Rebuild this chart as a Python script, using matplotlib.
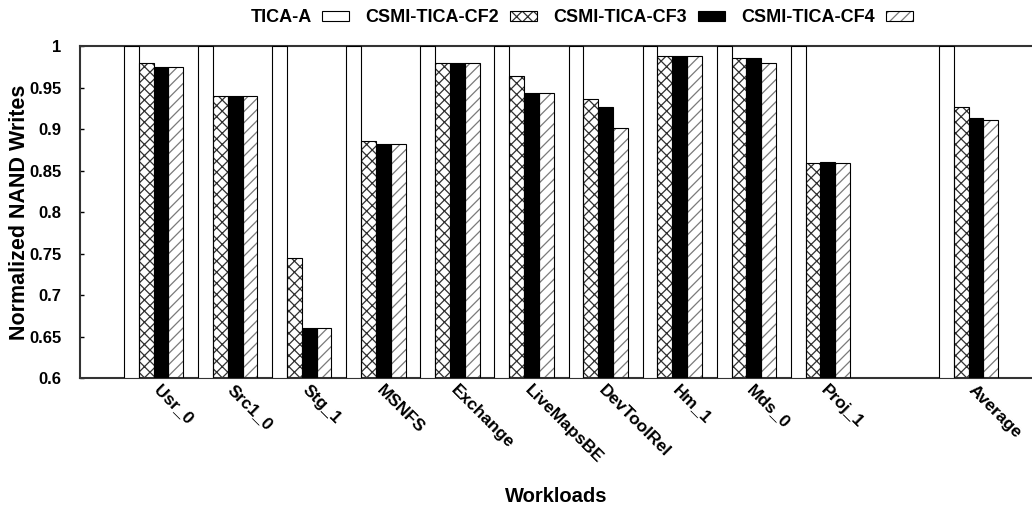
import matplotlib
matplotlib.use("Agg")
import matplotlib.pyplot as plt
import numpy as np
from matplotlib.patches import Patch
from matplotlib.ticker import FuncFormatter
from matplotlib.transforms import ScaledTranslation
from matplotlib.legend_handler import HandlerTuple

plt.rcParams['font.family'] = ['Liberation Sans', 'DejaVu Sans']
plt.rcParams['font.weight'] = 'bold'
plt.rcParams['hatch.linewidth'] = 0.9

categories = ["Usr_0", "Src1_0", "Stg_1", "MSNFS", "Exchange", "LiveMapsBE",
              "DevToolRel", "Hm_1", "Mds_0", "Proj_1", "", "Average"]
series_names = ["TICA-A", "CSMI-TICA-CF2", "CSMI-TICA-CF3", "CSMI-TICA-CF4"]
tica_a = [1, 1, 1, 1, 1, 1, 1, 1, 1, 1, np.nan, 1]
cf2 = [0.979, 0.940, 0.745, 0.8855, 0.980, 0.9635, 0.936, 0.988, 0.986, 0.859, np.nan, 0.926]
cf3 = [0.975, 0.940, 0.660, 0.882, 0.980, 0.943, 0.926, 0.988, 0.986, 0.860, np.nan, 0.9137]
cf4 = [0.975, 0.940, 0.660, 0.882, 0.980, 0.943, 0.901, 0.988, 0.979, 0.8587, np.nan, 0.911]
yticks = [0.6, 0.65, 0.7, 0.75, 0.8, 0.85, 0.9, 0.95, 1.0]

fig = plt.figure(figsize=(10.32, 5.07), dpi=100)
ax = fig.add_axes([0.0771, 0.2544, 0.9333, 0.6548])

x = np.arange(len(categories))
w = 0.2
offsets = [-1.5 * w, -0.5 * w, 0.5 * w, 1.5 * w]
styles = [
    dict(color='white', hatch=None, hatchcol=None),
    dict(color='white', hatch='xxx', hatchcol='#303030'),
    dict(color='black', hatch=None, hatchcol=None),
    dict(color='white', hatch='///', hatchcol='#7a7a7a'),
]
data = [tica_a, cf2, cf3, cf4]
handles = []
for vals, off, st, name in zip(data, offsets, styles, series_names):
    v = np.array(vals, dtype=float)
    if st['hatch']:
        ax.bar(x + off, v - 0.6, w, bottom=0.6, color=st['color'], hatch=st['hatch'],
               edgecolor=st['hatchcol'], linewidth=0, zorder=2)
        ax.bar(x + off, v - 0.6, w, bottom=0.6, fill=False, edgecolor='black',
               linewidth=0.8, zorder=3)
        h = (Patch(facecolor=st['color'], hatch=st['hatch'], edgecolor=st['hatchcol'], linewidth=0),
             Patch(fill=False, edgecolor='black', linewidth=0.8))
    else:
        ax.bar(x + off, v - 0.6, w, bottom=0.6, color=st['color'], edgecolor='black',
               linewidth=0.8, zorder=3)
        h = Patch(facecolor=st['color'], edgecolor='black', linewidth=0.8)
    handles.append(h)

ax.set_xlim(-1, 12)
ax.set_ylim(0.6, 1.0)
ax.set_yticks(yticks)
ax.yaxis.set_major_formatter(FuncFormatter(lambda v, p: f"{v:g}"))
ax.tick_params(axis='y', direction='in', length=3, width=1, labelsize=12, pad=13)
ax.set_xticks(x)
ax.set_xticklabels(categories, rotation=-45, ha='left', va='top', rotation_mode='anchor')
ax.tick_params(axis='x', length=0, labelsize=12.5, pad=3)
offset = ScaledTranslation(8 / 100, 0, fig.dpi_scale_trans)
for lab in ax.get_xticklabels():
    lab.set_transform(lab.get_transform() + offset)
for s in ax.spines.values():
    s.set_linewidth(1.5)
    s.set_color('#333333')

ax.set_ylabel("Normalized NAND Writes", fontsize=15.5, fontweight='bold')
ax.yaxis.set_label_coords(-0.0515, 0.5)
fig.text(0.539, 1 - 496 / 507, "Workloads", fontsize=14.5, fontweight='bold', ha='center', va='center')

fig.legend(handles, series_names, loc='center', bbox_to_anchor=(0.5635, 1 - 18 / 507), ncol=4,
           frameon=False, markerfirst=False, fontsize=13, handlelength=1.5,
           handleheight=0.5, handletextpad=0.6, columnspacing=0.9,
           handler_map={tuple: HandlerTuple(ndivide=1, pad=0)})

fig.savefig("out.png", dpi=100)
